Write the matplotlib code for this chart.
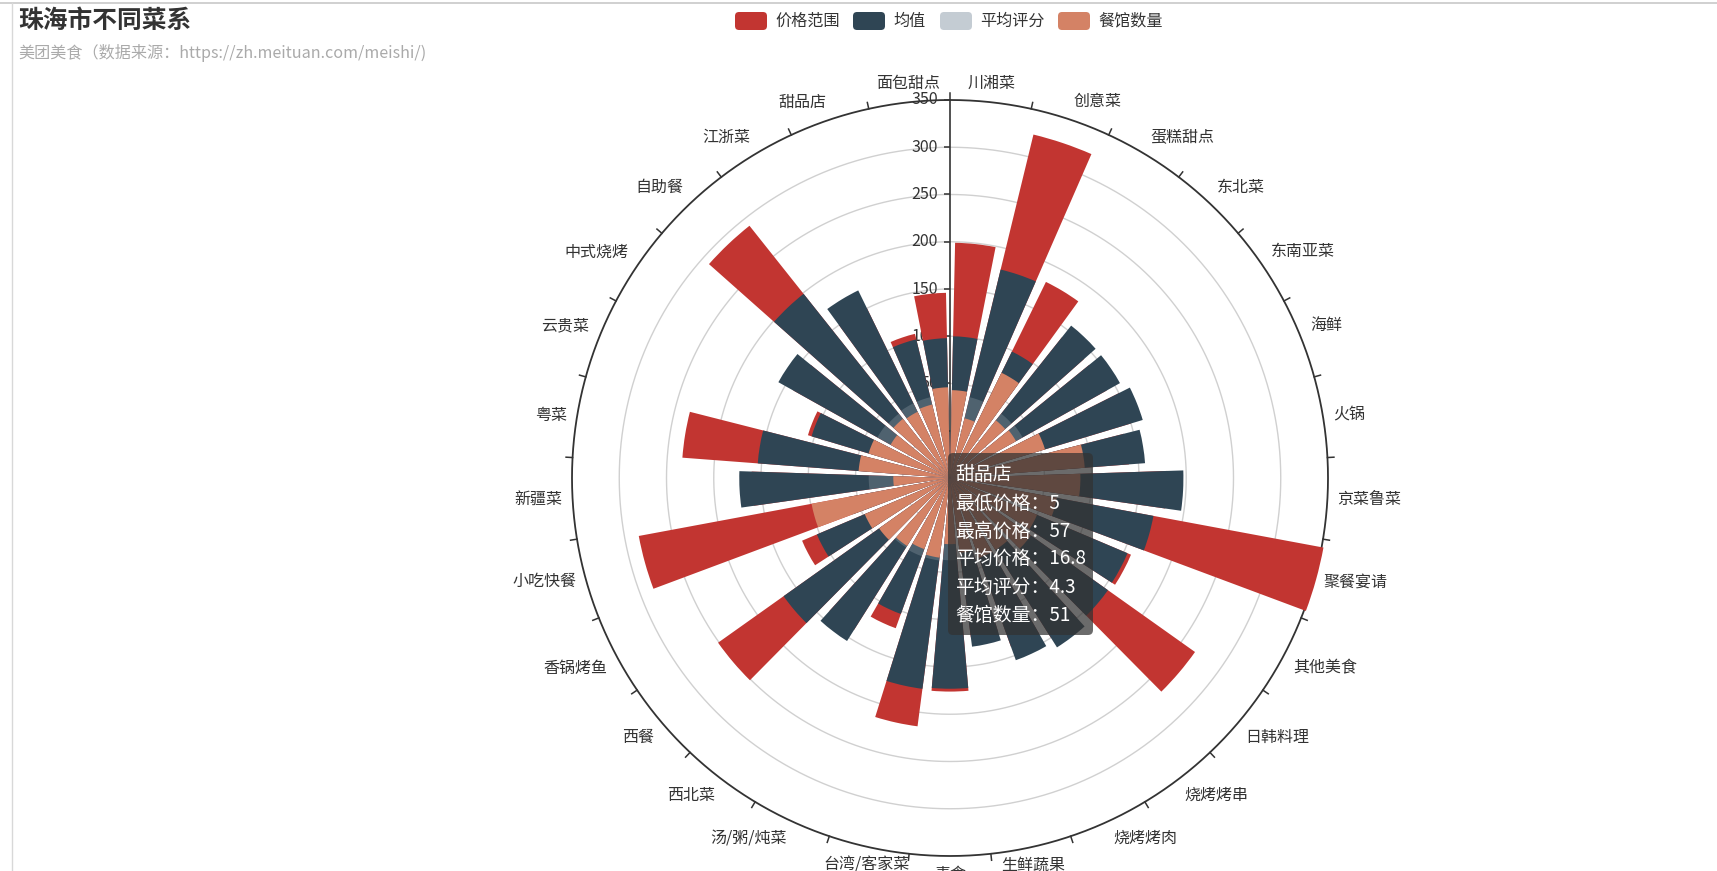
import numpy as np
import matplotlib
matplotlib.use('Agg')
import matplotlib.pyplot as plt
from matplotlib.patches import FancyBboxPatch
from matplotlib.transforms import IdentityTransform
from matplotlib.markers import TICKLEFT

plt.rcParams['font.family'] = ['Noto Sans CJK SC', 'DejaVu Sans']

# ---------------- data ----------------
categories = ['川湘菜', '创意菜', '蛋糕甜点', '东北菜', '东南亚菜', '海鲜', '火锅', '京菜鲁菜',
              '聚餐宴请', '其他美食', '日韩料理', '烧烤烤串', '烧烤烤肉', '生鲜蔬果', '素食',
              '台湾/客家菜', '汤/粥/炖菜', '西北菜', '西餐', '香锅烤鱼', '小吃快餐', '新疆菜',
              '粤菜', '云贵菜', '中式烧烤', '自助餐', '江浙菜', '甜品店', '面包甜点']
price_range = [199, 324, 181, 140, 140, 150, 140, 180, 352, 158, 268, 150, 140, 120, 176,
               215, 119, 140, 251, 120, 285, 160, 234, 107, 140, 291, 150, 107, 146]
mean_price = [100, 177, 99, 156, 156, 163, 157, 197, 169, 154, 155, 162, 155, 130, 173,
              175, 103, 154, 166, 103, 60, 173, 154, 103, 158, 199, 171, 101, 98]
avg_rating = [38, 38, 38, 37, 38, 38, 38, 38, 38, 38, 37, 38, 38, 38, 37,
              38, 38, 37, 38, 38, 38, 36, 38, 38, 38, 37, 38, 38, 38]
shop_count = [43, 15, 74, 28, 30, 55, 93, 88, 65, 50, 55, 40, 40, 30, 20,
              35, 30, 35, 42, 48, 99, 10, 47, 40, 22, 30, 28, 30, 46]

series_names = ['价格范围', '均值', '平均评分', '餐馆数量']
series_colors = ['#c23531', '#2f4554', '#c4ccd3', '#d48265']
r_ticks = [0, 50, 100, 150, 200, 250, 300, 350]
r_min, r_max = -50, 350

title = '珠海市不同菜系'
subtitle = '美团美食（数据来源：https://zh.meituan.com/meishi/)'
tooltip_title = '甜品店'
tooltip_items = ['最低价格', '最高价格', '平均价格', '平均评分', '餐馆数量']
tooltip_values = ['5', '57', '16.8', '4.3', '51']

# ---------------- figure ----------------
W, H = 1717, 871
fig = plt.figure(figsize=(W / 100, H / 100), dpi=100)
fig.patch.set_facecolor('white')

cx, cy, R = 950, 478, 378
ax = fig.add_axes([(cx - R) / W, (H - cy - R) / H, 2 * R / W, 2 * R / H], projection='polar')
ax.set_theta_zero_location('N')
ax.set_theta_direction(-1)
ax.set_ylim(r_min, r_max)
ax.axis('off')

n = len(categories)
step = 2 * np.pi / n
theta = (np.arange(n) + 0.5) * step
px_per_unit = R / (r_max - r_min)

# split lines
th = np.linspace(0, 2 * np.pi, 1441)
for v in r_ticks[:-1]:
    ax.plot(th, np.full_like(th, v), color='#d0d0d0', lw=1.0, zorder=0.5)
# angle axis line
ax.plot(th, np.full_like(th, r_max), color='#333333', lw=1.3, zorder=1.5, clip_on=False)
# angle ticks
tick_len = 6.5 / px_per_unit
for k in range(n):
    ax.plot([k * step, k * step], [r_max, r_max + tick_len], color='#333333', lw=1.1,
            clip_on=False, zorder=1.5)

# radius axis
ax.plot([0, 0], [r_min, r_max], color='#333333', lw=1.2, zorder=1.5, clip_on=False)
for v in r_ticks:
    ax.plot([0], [v], marker=TICKLEFT, ms=4.5, mew=1.1, color='#333333', clip_on=False, zorder=1.5)
    ax.annotate(str(v), xy=(0, v), xytext=(-12, 0), textcoords='offset pixels',
                ha='right', va='center', fontsize=11.5, color='#333333', zorder=0.8,
                annotation_clip=False)

# angle labels
r_lab = r_max + 10 / px_per_unit
for name, t in zip(categories, theta):
    s, c = np.sin(t), np.cos(t)
    ha = 'center' if abs(s) < 0.3 else ('left' if s > 0 else 'right')
    va = 'center' if abs(c) < 0.3 else ('bottom' if c > 0 else 'top')
    ax.text(t, r_lab, name, ha=ha, va=va, fontsize=11.5, color='#333333', clip_on=False)

# bars (each from the centre to its value, drawn in series order)
bar_w = 0.8 * step
series_vals = [price_range, mean_price, avg_rating, shop_count]
alphas = [1.0, 1.0, 0.22, 1.0]
for i, (vals, col, a) in enumerate(zip(series_vals, series_colors, alphas)):
    vals = np.asarray(vals, dtype=float)
    ax.bar(theta, vals - r_min, bottom=r_min, width=bar_w, color=col, alpha=a,
           linewidth=0, zorder=2 + i, clip_on=False)

# ---------------- helpers in pixel coords ----------------
def fx(px):
    return px / W

def fy(py):
    return 1 - py / H

# frame lines
fig.add_artist(plt.Line2D([0, 1], [fy(3.5), fy(3.5)], color='#c8c8c8', lw=1.2, transform=fig.transFigure))
fig.add_artist(plt.Line2D([fx(11.5), fx(11.5)], [0, fy(3.5)], color='#d8d8d8', lw=1.0, transform=fig.transFigure))

# title
fig.text(fx(18), fy(21), title, fontsize=17.8, fontweight='bold', color='#333333', ha='left', va='center')
fig.text(fx(18), fy(53.5), subtitle, fontsize=11.6, color='#aaaaaa', ha='left', va='center')

# legend
leg_box_x = [735, 853, 940, 1058]
leg_txt_x = [775, 893, 980, 1098]
for name, col, bx, tx in zip(series_names, series_colors, leg_box_x, leg_txt_x):
    p = FancyBboxPatch((bx, H - 30), 32, 18, boxstyle='round,pad=0,rounding_size=4',
                       facecolor=col, edgecolor='none', transform=IdentityTransform(), zorder=5)
    fig.add_artist(p)
    fig.text(fx(tx), fy(21), name, fontsize=11.6, color='#333333', ha='left', va='center')

# tooltip
tb = FancyBboxPatch((948, H - 635), 145, 182, boxstyle='round,pad=0,rounding_size=5',
                    facecolor=(50 / 255, 50 / 255, 50 / 255, 0.72), edgecolor='none',
                    transform=IdentityTransform(), zorder=10)
fig.add_artist(tb)
lines = [tooltip_title] + [f'{k}：{v}' for k, v in zip(tooltip_items, tooltip_values)]
ys = [475, 503, 531, 559, 587, 615]
for txt, yy in zip(lines, ys):
    fig.text(fx(955), fy(yy), txt, fontsize=13.6, color='white', ha='left', va='center', zorder=11)

fig.savefig('out.png', dpi=100)
